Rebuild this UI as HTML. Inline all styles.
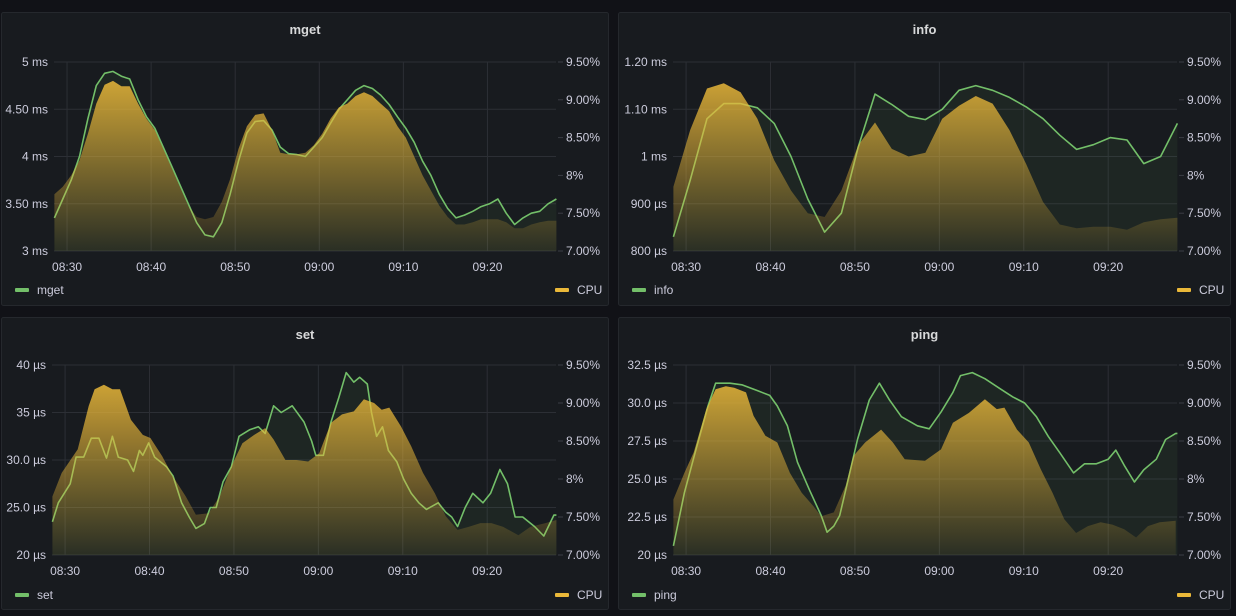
<!DOCTYPE html>
<html><head><meta charset="utf-8"><style>
html,body{margin:0;padding:0;background:#111217;}
svg{display:block;font-family:"Liberation Sans",sans-serif;}
</style></head><body>
<svg id="root" width="1236" height="616" viewBox="0 0 1236 616">
<defs>
<linearGradient id="cpuGradTop" gradientUnits="userSpaceOnUse" x1="0" y1="62" x2="0" y2="251">
<stop offset="0" stop-color="#eab839" stop-opacity="0.95"/><stop offset="1" stop-color="#eab839" stop-opacity="0.06"/></linearGradient>
<linearGradient id="cpuGradBot" gradientUnits="userSpaceOnUse" x1="0" y1="365" x2="0" y2="555">
<stop offset="0" stop-color="#eab839" stop-opacity="0.95"/><stop offset="1" stop-color="#eab839" stop-opacity="0.06"/></linearGradient>
</defs>
</svg>
<script>
// ---- data (minutes after 08:00) ----
const xTickLabels = ["08:30","08:40","08:50","09:00","09:10","09:20"];
const xTickTimes = [30,40,50,60,70,80];
const cpuTickLabels = ["9.50%","9.00%","8.50%","8%","7.50%","7.00%"];
const cpuTickValues = [9.5,9.0,8.5,8.0,7.5,7.0];

const mgetTimes = Array.from({length:61},(_,i)=>28.5+i*0.995);
const mgetLatency = [3.35,3.55,3.75,4.0,4.4,4.75,4.88,4.9,4.85,4.82,4.6,4.42,4.3,4.1,3.9,3.7,3.5,3.3,3.17,3.15,3.3,3.6,3.95,4.25,4.37,4.38,4.28,4.1,4.03,4.02,4.0,4.1,4.2,4.35,4.5,4.6,4.7,4.75,4.72,4.65,4.55,4.42,4.3,4.15,3.95,3.8,3.6,3.45,3.35,3.38,3.42,3.47,3.5,3.55,3.4,3.28,3.35,3.4,3.42,3.5,3.55];
const mgetCpu = [7.75,7.85,8.0,8.2,8.55,8.95,9.2,9.25,9.18,9.18,8.95,8.75,8.6,8.35,8.1,7.85,7.6,7.45,7.42,7.45,7.65,7.95,8.35,8.65,8.8,8.82,8.6,8.3,8.28,8.28,8.3,8.4,8.55,8.75,8.9,8.95,9.05,9.1,9.05,8.95,8.85,8.65,8.5,8.25,8.0,7.8,7.6,7.45,7.35,7.35,7.38,7.42,7.42,7.42,7.38,7.3,7.3,7.35,7.38,7.4,7.4];
const mgetTickLabels = ["5 ms","4.50 ms","4 ms","3.50 ms","3 ms"];
const mgetTickValues = [5,4.5,4,3.5,3];

const infoTimes = Array.from({length:31},(_,i)=>28.5+i*1.99);
const infoLatency = [830,950,1080,1112,1112,1103,1070,1000,910,840,880,1020,1132,1110,1085,1078,1100,1140,1150,1140,1125,1105,1080,1045,1015,1025,1040,1035,985,1000,1070];
const infoCpu = [7.85,8.6,9.15,9.22,9.1,8.75,8.2,7.8,7.5,7.45,7.8,8.4,8.7,8.35,8.25,8.3,8.75,8.92,9.05,8.95,8.6,8.15,7.65,7.35,7.3,7.32,7.32,7.28,7.38,7.42,7.44];
const infoTickLabels = ["1.20 ms","1.10 ms","1 ms","900 µs","800 µs"];
const infoTickValues = [1200,1100,1000,900,800];

const setLineTimes = [28.5,29.2,30.6,31.3,32.2,33.1,34,34.9,35.6,36.3,37.4,38.1,38.8,39.2,39.9,40.6,42,42.8,43.8,44.7,45.5,46.5,47.2,47.9,48.7,49.7,50.6,51.9,52.9,53.7,54.7,55.6,56.9,58.3,59.2,59.7,60.6,61.5,62.4,63.3,64.2,64.9,65.8,66.3,66.9,67.6,68.3,69.3,70.1,71,71.9,72.8,74.2,75.1,75.8,76.5,77.4,78.3,79.5,80.4,81.5,82.4,83.3,84.2,85.6,86.7,87.9,88.2];
const setLatency = [23.5,25.5,27.5,30.3,30.3,32.3,32.3,30.2,32.5,30.3,30,28.8,31,30.5,31.8,30.3,29.3,28.3,25.5,24,22.8,23.3,25,25,27.7,29.3,32.5,33.2,33.5,32.8,35.7,35,35.7,34,32,30.5,30.5,34,36.5,39.2,38.2,38.7,38,35,32.5,33.5,31,29.8,28,26.5,25.5,24.8,25.5,24.5,24,23,25,26.5,25.5,26.5,29,27.5,24,24,23,22,24.2,24.2];
const setCpuTimes = [28.5,29.6,31.5,32.8,33.5,34.6,35.6,36.5,37.8,39.2,40.1,41.5,42.8,44.3,45.5,47,48.3,49.7,51,52.4,53.7,54.7,56.1,57.4,58.8,60.1,61.5,62.8,64.2,65.4,66.6,67.5,68.4,69.8,71,72.4,73.8,75.1,76.5,77.8,79.2,80.5,81.9,83.7,85.1,86.9,88.2];
const setCpu = [7.77,8.08,8.39,8.96,9.18,9.24,9.18,9.18,8.78,8.58,8.54,8.3,8.03,7.77,7.53,7.55,7.77,8.17,8.47,8.58,8.67,8.52,8.25,8.25,8.23,8.34,8.74,8.85,8.89,9.05,9.0,8.91,8.94,8.69,8.43,8.08,7.81,7.51,7.33,7.37,7.42,7.42,7.37,7.26,7.37,7.42,7.46];
const setTickLabels = ["40 µs","35 µs","30.0 µs","25.0 µs","20 µs"];
const setTickValues = [40,35,30,25,20];

const pingLineTimes = [28.5,29.8,31.2,32.6,33.5,35.2,36.6,38.5,39.9,40.8,42,43.2,44.6,46,46.7,47.5,48.2,49.3,50.3,51.7,52.9,54.1,55.5,57.4,58.8,60.2,61.6,62.5,63.9,65.4,67.3,68.7,70.1,71.5,72.9,74.3,75.9,77.2,78.6,80,80.9,81.9,83.1,84.2,85.7,86.8,88,88.2];
const pingLatency = [20.6,24.1,27,29.8,31.3,31.3,31.2,30.8,30.5,29.8,28.5,26.1,24.3,22.6,21.5,21.9,22.6,25.2,27.6,30.2,31.3,30.2,29.1,28.5,28.3,29.4,30.7,31.8,32,31.6,30.9,30.4,30.0,29.1,27.8,26.7,25.4,26,26,26.3,26.9,25.9,24.8,25.6,26.3,27.6,28,28];
const pingCpuTimes = [28.5,29.8,30.9,32.4,33.5,34.7,35.7,37.1,38,39.4,40.8,42.3,43.7,45.1,46,47.5,48.9,49.8,51.2,53.1,54.5,55.9,58.3,60.2,61.6,63.5,65.4,66.8,67.7,69.2,70.6,72,73.4,74.8,76.2,77.6,79.1,80.5,81.9,83.3,84.7,86.1,88];
const pingCpu = [7.73,8.08,8.35,8.92,9.18,9.22,9.2,9.14,8.83,8.57,8.48,8.08,7.82,7.64,7.51,7.56,7.91,8.3,8.48,8.65,8.48,8.26,8.24,8.39,8.74,8.87,9.05,8.92,8.94,8.65,8.48,8.13,7.82,7.47,7.29,7.38,7.43,7.4,7.34,7.23,7.38,7.43,7.45];
const pingTickLabels = ["32.5 µs","30.0 µs","27.5 µs","25.0 µs","22.5 µs","20 µs"];
const pingTickValues = [32.5,30,27.5,25,22.5,20];

const NS="http://www.w3.org/2000/svg";
const root=document.getElementById('root');
function mk(tag,attrs,parent){const e=document.createElementNS(NS,tag);for(const k in attrs)e.setAttribute(k,attrs[k]);(parent||root).appendChild(e);return e;}

const charts=[
 {name:"mget",px:1,py:12,pw:608,ph:294,l:54,r:556,t:62,b:251,grad:"cpuGradTop",lt:mgetTimes,lv:mgetLatency,ct:mgetTimes,cv:mgetCpu,ticks:mgetTickValues,tl:mgetTickLabels},
 {name:"info",px:618,py:12,pw:613,ph:294,l:673,r:1177,t:62,b:251,grad:"cpuGradTop",lt:infoTimes,lv:infoLatency,ct:infoTimes,cv:infoCpu,ticks:infoTickValues,tl:infoTickLabels},
 {name:"set",px:1,py:317,pw:608,ph:293,l:52,r:556,t:365,b:555,grad:"cpuGradBot",lt:setLineTimes,lv:setLatency,ct:setCpuTimes,cv:setCpu,ticks:setTickValues,tl:setTickLabels},
 {name:"ping",px:618,py:317,pw:613,ph:293,l:673,r:1177,t:365,b:555,grad:"cpuGradBot",lt:pingLineTimes,lv:pingLatency,ct:pingCpuTimes,cv:pingCpu,ticks:pingTickValues,tl:pingTickLabels}
];
const T0=28.45,T1=88.15;

charts.forEach(c=>{
 const g=mk('g',{});
 
 
 const bg=mk('rect',{x:c.px+0.5,y:c.py+0.5,width:c.pw-1,height:c.ph-1,rx:2,fill:'#181b1f',stroke:'#25282d'},g);
 
 
 const title=mk('text',{x:c.px+c.pw/2,y:c.py+22,fill:'#d8d9da','font-size':13,'font-weight':'bold','text-anchor':'middle'},g);
 title.textContent=c.name;
 
 
 const xs=t=>c.l+(t-T0)/(T1-T0)*(c.r-c.l);
 const lmin=Math.min(...c.ticks),lmax=Math.max(...c.ticks);
 const ys=v=>c.b-(v-lmin)/(lmax-lmin)*(c.b-c.t);
 const yc=v=>c.b-(v-7)/(9.5-7)*(c.b-c.t);
 // grid
 c.ticks.forEach((v,i)=>{
  const y=ys(v);
  const gl=mk('line',{x1:c.l,x2:c.r,y1:y,y2:y,stroke:'#2c2f35','stroke-width':1},g);
  
  
  const tx=mk('text',{x:c.l-6,y:y+4,fill:'#ccccdc','font-size':12,'text-anchor':'end'},g);
  tx.textContent=c.tl[i];
  
  
 });
 cpuTickValues.forEach((v,i)=>{
  const y=yc(v);
  const tk=mk('line',{x1:c.r+2,x2:c.r+7,y1:y,y2:y,stroke:'#3a3d44'},g);
  
  
  const tx=mk('text',{x:c.r+10,y:y+4,fill:'#ccccdc','font-size':12},g);
  tx.textContent=cpuTickLabels[i];
  
  
 });
 xTickTimes.forEach((t,i)=>{
  const x=xs(t);
  const gl=mk('line',{x1:x,x2:x,y1:c.t,y2:c.b,stroke:'#2c2f35'},g);
  
  
  const tx=mk('text',{x:x,y:c.b+20,fill:'#ccccdc','font-size':12,'text-anchor':'middle'},g);
  tx.textContent=xTickLabels[i];
  
  
 });
 // latency area + line
 let lp=c.lt.map((t,i)=>xs(t).toFixed(1)+','+ys(c.lv[i]).toFixed(1));
 const la=mk('polygon',{points:xs(c.lt[0])+','+c.b+' '+lp.join(' ')+' '+xs(c.lt[c.lt.length-1])+','+c.b,fill:'#73bf69','fill-opacity':0.07},g);
 
 
 const ll=mk('polyline',{points:lp.join(' '),fill:'none',stroke:'#73bf69','stroke-width':1.6,'stroke-linejoin':'round'},g);
 
 
 // cpu area
 let cp=c.ct.map((t,i)=>xs(t).toFixed(1)+','+yc(c.cv[i]).toFixed(1));
 const ca=mk('polygon',{points:xs(c.ct[0])+','+c.b+' '+cp.join(' ')+' '+xs(c.ct[c.ct.length-1])+','+c.b,fill:'url(#'+c.grad+')'},g);
 
 
 // legend
 const lb=mk('rect',{x:c.px+14,y:c.py+276,width:14,height:4,rx:1,fill:'#73bf69'},g);
 
 
 const lt=mk('text',{x:c.px+36,y:c.py+282,fill:'#ccccdc','font-size':12},g);
 lt.textContent=c.name;
 
 
 const cb=mk('rect',{x:c.px+c.pw-54,y:c.py+276,width:14,height:4,rx:1,fill:'#eab839'},g);
 
 
 const ct=mk('text',{x:c.px+c.pw-32,y:c.py+282,fill:'#ccccdc','font-size':12},g);
 ct.textContent='CPU';
 
 
});
</script>
</body></html>
